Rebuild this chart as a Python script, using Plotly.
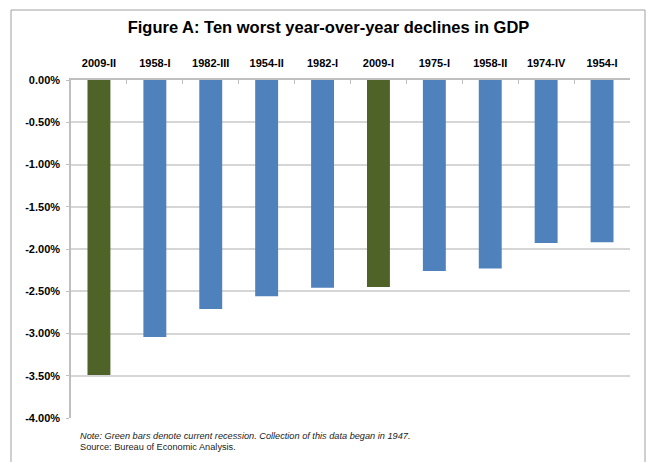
import plotly.graph_objects as go

# ---- data ----
categories = ["2009-II", "1958-I", "1982-III", "1954-II", "1982-I",
              "2009-I", "1975-I", "1958-II", "1974-IV", "1954-I"]
values = [-3.49, -3.04, -2.71, -2.56, -2.46, -2.45, -2.26, -2.23, -1.93, -1.92]
current_recession = ["2009-II", "2009-I"]
y_tick_vals = [0, -0.5, -1.0, -1.5, -2.0, -2.5, -3.0, -3.5, -4.0]
y_tick_text = ["0.00%", "-0.50%", "-1.00%", "-1.50%", "-2.00%",
               "-2.50%", "-3.00%", "-3.50%", "-4.00%"]
title_text = "Figure A: Ten worst year-over-year declines in GDP"
note_text = "Note: Green bars denote current recession. Collection of this data began in 1947."
source_text = "Source: Bureau of Economic Analysis."

GREEN = "#4F6228"
BLUE = "#4F81BD"
FONT = "Liberation Sans, Arial, sans-serif"

colors = [GREEN if c in current_recession else BLUE for c in categories]

W, H = 649, 462
ML, MR, MT, MB = 71, 19, 80, 44
pw = W - ML - MR
ph = H - MT - MB

def px_x(px):
    return (px - ML) / pw

def px_y(py):
    return (H - MB - py) / ph

fig = go.Figure(go.Bar(
    x=categories, y=values,
    marker=dict(color=colors, line=dict(width=0)),
    showlegend=False,
))

fig.update_layout(
    width=W, height=H,
    margin=dict(l=ML, r=MR, t=MT, b=MB, pad=0),
    paper_bgcolor="white", plot_bgcolor="white",
    bargap=0.59,
    font=dict(family=FONT, color="#000000"),
    title=dict(text="<b>" + title_text + "</b>", x=328.5 / W, xanchor="center",
               y=1 - 27 / H, yanchor="middle", xref="container", yref="container",
               font=dict(size=16.5, family=FONT, color="#000")),
    xaxis=dict(
        type="category", side="top",
        showline=True, linecolor="#bfbfbf", linewidth=1.5,
        ticks="inside", tickson="boundaries", ticklen=4, tickcolor="#bfbfbf", tickwidth=1,
        showgrid=False,
        tickfont=dict(size=11, family=FONT, color="#000", weight="bold"),
        ticklabelstandoff=7,
    ),
    yaxis=dict(
        range=[-4, 0], tickvals=y_tick_vals, ticktext=y_tick_text,
        showgrid=True, gridcolor="#d6d6d6", gridwidth=1.5,
        showline=True, linecolor="#bfbfbf", linewidth=1.5,
        ticks="outside", ticklen=3, tickcolor="#bfbfbf",
        zeroline=False,
        tickfont=dict(size=11, family=FONT, color="#000", weight="bold"),
        ticklabelstandoff=4,
    ),
    annotations=[
        dict(text="<i>" + note_text + "</i>", xref="paper", yref="paper",
             x=px_x(78), y=px_y(436), xanchor="left", yanchor="middle",
             showarrow=False, font=dict(size=9.2, family=FONT, color="#222")),
        dict(text=source_text, xref="paper", yref="paper",
             x=px_x(78), y=px_y(447), xanchor="left", yanchor="middle",
             showarrow=False, font=dict(size=9.2, family=FONT, color="#222")),
    ],
    shapes=[
        dict(type="rect", xref="paper", yref="paper",
             x0=px_x(11), x1=px_x(645), y0=px_y(470), y1=px_y(10),
             line=dict(color="#a0a0a0", width=1), fillcolor="rgba(0,0,0,0)", layer="below"),
    ],
)

fig.write_html("out.html")
